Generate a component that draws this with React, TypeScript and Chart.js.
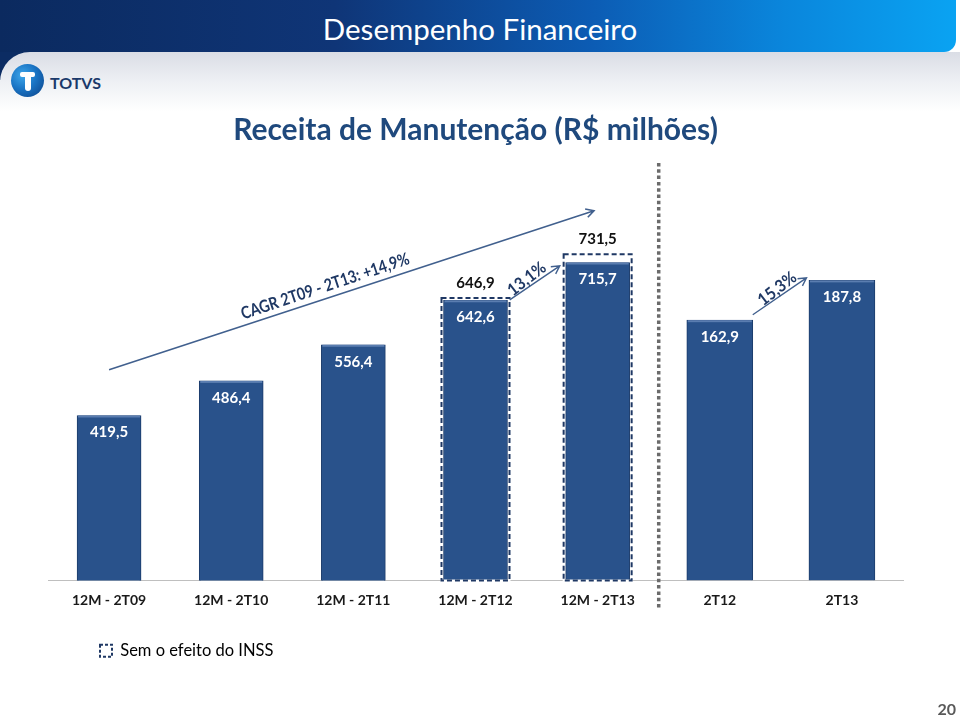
import React, { useEffect, useRef } from 'react';
import { Chart, registerables } from 'chart.js';

Chart.register(...registerables);

// ---- data ----
const categories = ['12M - 2T09', '12M - 2T10', '12M - 2T11', '12M - 2T12', '12M - 2T13', '2T12', '2T13'];
const annualValues = [419.5, 486.4, 556.4, 642.6, 715.7, null, null];
const quarterValues = [null, null, null, null, null, 162.9, 187.8];
const withoutInssValues = [null, null, null, 646.9, 731.5, null, null];
const legendLabel = 'Sem o efeito do INSS';
const chartTitle = 'Receita de Manutenção (R$ milhões)';
const cagrLabel = 'CAGR 2T09 - 2T13: +14,9%';
const growth12MLabel = '13,1%';
const growthQuarterLabel = '15,3%';

// annotations in data units: [category index, axis value]
const arrowSpecs = [
  { axis: 'y', from: [0, 508], to: [3.97, 816], width: 1.6 },
  { axis: 'y', from: [3.28, 643.5], to: [3.69, 709.3], width: 1.4 },
  { axis: 'y2', from: [5.27, 166.3], to: [5.71, 189.4], width: 1.4 },
];
const textSpecs = [
  { text: cagrLabel, axis: 'y', at: [1.769, 669.6], angle: -18.5, size: 17, squeeze: 0.84 },
  { text: growth12MLabel, axis: 'y', at: [3.42, 684], angle: -38, size: 17, squeeze: 0.92 },
  { text: growthQuarterLabel, axis: 'y2', at: [5.47, 182.5], angle: -38, size: 17, squeeze: 0.92 },
];

const BAR = '#29528B';
const BAR_EDGE = '#1C3C6B';
const NAVY = '#1F3864';
const FONT = 'Lato, "Open Sans", sans-serif';

const fmt = (v: number) => v.toFixed(1).replace('.', ',');

const overlayPlugin = {
  id: 'overlay',
  afterLayout(chart: any) {
    // lift the legend closer to the category labels
    const lg = chart.legend;
    if (lg) {
      lg.top -= 19;
      lg.bottom -= 19;
    }
  },
  afterDatasetsDraw(chart: any) {
    const ctx: CanvasRenderingContext2D = chart.ctx;
    const xs = chart.scales.x;
    const area = chart.chartArea;

    // dashed outlines (without INSS effect)
    const dashMeta = chart.getDatasetMeta(2);
    dashMeta.data.forEach((el: any, i: number) => {
      const v = withoutInssValues[i];
      if (v == null) return;
      const { x, y, base, width } = el.getProps(['x', 'y', 'base', 'width'], true);
      const b = Math.min(base, area.bottom);
      const l = x - width / 2;
      ctx.save();
      ctx.lineWidth = 2;
      ctx.strokeStyle = '#ffffff';
      ctx.strokeRect(l, y, width, b - y);
      ctx.setLineDash([5, 3]);
      ctx.strokeStyle = NAVY;
      ctx.strokeRect(l, y, width, b - y);
      ctx.setLineDash([]);
      ctx.fillStyle = '#111111';
      ctx.font = `bold 15px ${FONT}`;
      ctx.textAlign = 'center';
      ctx.textBaseline = 'middle';
      ctx.fillText(fmt(v), x, y - 15);
      ctx.restore();
    });

    // value labels inside bars
    [0, 1].forEach((d) => {
      const meta = chart.getDatasetMeta(d);
      const data = chart.data.datasets[d].data;
      meta.data.forEach((el: any, i: number) => {
        const v = data[i];
        if (v == null) return;
        const { x, y, width } = el.getProps(['x', 'y', 'width'], true);
        ctx.save();
        ctx.fillStyle = '#5A7DB0';
        ctx.fillRect(x - width / 2 + 1, y, width - 2, 2);
        ctx.fillStyle = '#ffffff';
        ctx.font = `bold 15px ${FONT}`;
        ctx.textAlign = 'center';
        ctx.textBaseline = 'middle';
        ctx.fillText(fmt(v as number), x, y + 17);
        ctx.restore();
      });
    });

    // separator between 12M and quarterly groups
    const sx = xs.getPixelForValue(4.5);
    ctx.save();
    ctx.strokeStyle = '#6B6B6B';
    ctx.lineWidth = 3.5;
    ctx.setLineDash([3.5, 2.8]);
    ctx.beginPath();
    ctx.moveTo(sx, area.top + 6);
    ctx.lineTo(sx, area.bottom + 29);
    ctx.stroke();
    ctx.restore();

    // arrows
    arrowSpecs.forEach((a) => {
      const ys = chart.scales[a.axis];
      const x1 = xs.getPixelForValue(a.from[0]);
      const y1 = ys.getPixelForValue(a.from[1]);
      const x2 = xs.getPixelForValue(a.to[0]);
      const y2 = ys.getPixelForValue(a.to[1]);
      const ang = Math.atan2(y2 - y1, x2 - x1);
      const head = 9;
      ctx.save();
      ctx.strokeStyle = '#41608E';
      ctx.lineWidth = a.width;
      ctx.beginPath();
      ctx.moveTo(x1, y1);
      ctx.lineTo(x2, y2);
      ctx.moveTo(x2 - head * Math.cos(ang - 0.5), y2 - head * Math.sin(ang - 0.5));
      ctx.lineTo(x2, y2);
      ctx.lineTo(x2 - head * Math.cos(ang + 0.5), y2 - head * Math.sin(ang + 0.5));
      ctx.stroke();
      ctx.restore();
    });

    // rotated texts
    textSpecs.forEach((t) => {
      const ys = chart.scales[t.axis];
      const x = xs.getPixelForValue(t.at[0]);
      const y = ys.getPixelForValue(t.at[1]);
      ctx.save();
      ctx.translate(x, y);
      ctx.rotate((t.angle * Math.PI) / 180);
      ctx.scale(t.squeeze, 1);
      ctx.fillStyle = NAVY;
      ctx.font = `bold ${t.size}px ${FONT}`;
      ctx.textAlign = 'center';
      ctx.textBaseline = 'middle';
      ctx.fillText(t.text, 0, 0);
      ctx.restore();
    });
  },
};

export default function App() {
  const ref = useRef<HTMLCanvasElement>(null);

  useEffect(() => {
    document.body.style.margin = '0';
    const canvas = ref.current;
    if (!canvas) return;
    const chart = new Chart(canvas, {
      type: 'bar',
      data: {
        labels: categories,
        datasets: [
          {
            label: 'Receita 12M',
            data: annualValues,
            yAxisID: 'y',
            backgroundColor: BAR,
            borderColor: BAR_EDGE,
            borderWidth: 1,
            borderSkipped: 'bottom',
            barThickness: 64,
            grouped: false,
          } as any,
          {
            label: 'Receita trimestral',
            data: quarterValues,
            yAxisID: 'y2',
            backgroundColor: BAR,
            borderColor: BAR_EDGE,
            borderWidth: 1,
            borderSkipped: 'bottom',
            barThickness: 66,
            grouped: false,
          } as any,
          {
            label: legendLabel,
            data: withoutInssValues,
            yAxisID: 'y',
            backgroundColor: 'rgba(0,0,0,0)',
            borderWidth: 0,
            barThickness: 68,
            grouped: false,
          } as any,
        ],
      },
      options: {
        responsive: false,
        animation: false,
        devicePixelRatio: 1,
        layout: { padding: { left: 48, right: 57, top: 0, bottom: 17 } },
        plugins: {
          title: {
            display: true,
            text: chartTitle,
            color: '#1F497D',
            font: { family: FONT, size: 30, weight: 'bold', lineHeight: 1.2 },
            padding: { top: 7, bottom: 9 },
          },
          legend: {
            position: 'bottom',
            align: 'start',
            onClick: () => {},
            labels: {
              padding: 52,
              boxWidth: 12,
              boxHeight: 12,
              color: '#262626',
              font: { family: FONT, size: 16.5 },
              generateLabels: () => [
                {
                  text: legendLabel,
                  fillStyle: '#ffffff',
                  strokeStyle: NAVY,
                  lineWidth: 2,
                  lineDash: [3, 2],
                  datasetIndex: 2,
                  hidden: false,
                } as any,
              ],
            },
          },
          tooltip: { enabled: false },
        },
        scales: {
          x: {
            grid: { display: false, drawTicks: false },
            border: { display: true, color: '#BFBFBF', width: 1 },
            ticks: {
              color: '#1A1A1A',
              font: { family: FONT, size: 14, weight: 'bold' },
              padding: 12,
              maxRotation: 0,
              autoSkip: false,
            },
            afterFit: (s: any) => {
              s.height = 29;
            },
          },
          y: { display: false, min: 100, max: 920 },
          y2: { display: false, min: 0, max: 265, position: 'right' },
        },
      } as any,
      plugins: [overlayPlugin],
    });
    return () => chart.destroy();
  }, []);

  return (
    <div
      style={{
        position: 'absolute',
        left: 0,
        top: 0,
        width: 960,
        height: 719,
        overflow: 'hidden',
        background: '#ffffff',
        fontFamily: FONT,
      }}
    >
      {/* blue header band */}
      <div
        style={{
          position: 'absolute',
          left: 0,
          top: 30,
          width: 80,
          height: 50,
          background: '#0C2C63',
        }}
      />
      <div
        style={{
          position: 'absolute',
          left: 0,
          top: 0,
          width: 956,
          height: 52,
          borderBottomRightRadius: 12,
          background: 'linear-gradient(90deg, #0B2A5F 0%, #0F3577 35%, #0C5CB4 62%, #0A86DC 82%, #0AA3F2 100%)',
        }}
      />
      {/* grey panel under band */}
      <div
        style={{
          position: 'absolute',
          left: 0,
          top: 52,
          width: 960,
          height: 60,
          borderTopLeftRadius: 30,
          background: 'linear-gradient(180deg, #DADDE5 0%, #EEF0F4 50%, #FFFFFF 100%)',
        }}
      />
      <div
        style={{
          position: 'absolute',
          left: 0,
          top: 9,
          width: 960,
          textAlign: 'center',
          color: '#ffffff',
          fontSize: 29.5,
          lineHeight: '40px',
          fontFamily: FONT,
        }}
      >
        Desempenho Financeiro
      </div>
      {/* TOTVS logo */}
      <div
        style={{
          position: 'absolute',
          left: 11,
          top: 64,
          width: 33,
          height: 33,
          borderRadius: 17,
          background: 'radial-gradient(circle at 35% 35%, #3DA6EA 0%, #1A74C4 45%, #0B3F84 100%)',
        }}
      >
        <div style={{ position: 'absolute', left: 9, top: 8, width: 15, height: 5, borderRadius: 2, background: '#fff' }} />
        <div style={{ position: 'absolute', left: 13.5, top: 8, width: 6, height: 19, borderRadius: 3, background: '#fff' }} />
      </div>
      <div
        style={{
          position: 'absolute',
          left: 50,
          top: 71,
          color: '#1B3A6B',
          fontWeight: 'bold',
          fontSize: 16,
          lineHeight: '24px',
          fontFamily: FONT,
        }}
      >
        TOTVS
      </div>
      {/* chart */}
      <canvas ref={ref} width={960} height={600} style={{ position: 'absolute', left: 0, top: 105, width: 960, height: 600 }} />
      {/* page number */}
      <div
        style={{
          position: 'absolute',
          right: 4,
          top: 699,
          color: '#595959',
          fontWeight: 'bold',
          fontSize: 16,
          lineHeight: '20px',
          fontFamily: FONT,
        }}
      >
        20
      </div>
    </div>
  );
}
